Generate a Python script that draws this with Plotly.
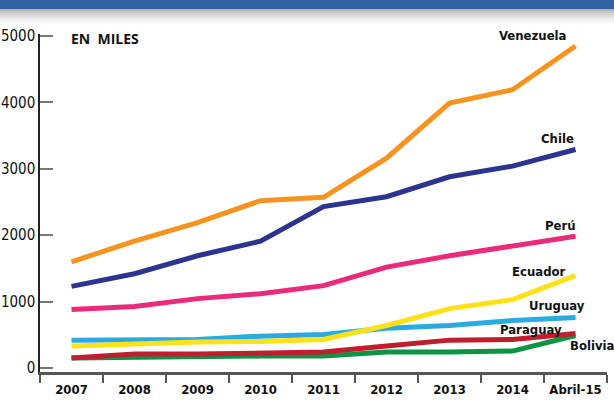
import plotly.graph_objects as go

years = ["2007", "2008", "2009", "2010", "2011", "2012", "2013", "2014", "Abril-15"]
venezuela = [1600, 1910, 2190, 2520, 2570, 3160, 3990, 4190, 4850]
chile = [1230, 1420, 1690, 1910, 2430, 2580, 2880, 3040, 3290]
peru = [880, 925, 1045, 1120, 1240, 1520, 1690, 1840, 1985]
ecuador = [330, 360, 390, 400, 430, 640, 895, 1030, 1390]
uruguay = [420, 425, 430, 480, 505, 600, 640, 715, 760]
paraguay = [150, 210, 210, 225, 240, 330, 420, 430, 520]
bolivia = [150, 165, 180, 180, 180, 240, 240, 255, 490]
yticks = [0, 1000, 2000, 3000, 4000, 5000]

series = [
    ("Bolivia", bolivia, "#0A9444"),
    ("Paraguay", paraguay, "#BE1E2D"),
    ("Uruguay", uruguay, "#29AAE1"),
    ("Ecuador", ecuador, "#FFE11A"),
    ("Perú", peru, "#EC2A7A"),
    ("Chile", chile, "#2B3590"),
    ("Venezuela", venezuela, "#F7931E"),
]

W, H = 614, 402
L, R, T, B = 40, 7, 34, 30
pw = W - L - R
ph = H - T - B

def px(x):
    return (x - L) / pw

def py(y):
    return (H - B - y) / ph

COND = "DejaVu Sans Condensed, Roboto, sans-serif"

fig = go.Figure()
for name, vals, col in series:
    fig.add_trace(go.Scatter(x=years, y=vals, mode="lines", name=name,
                             line=dict(color=col, width=5), showlegend=False,
                             hoverinfo="skip"))

lab_font = dict(family=COND, size=13, color="#111")
labels = [
    ("Venezuela", 533, 35),
    ("Chile", 557, 138),
    ("Perú", 560, 225),
    ("Ecuador", 539, 271),
    ("Uruguay", 557, 305),
    ("Paraguay", 531, 329),
    ("Bolivia", 592, 345),
]
ann = []
for t, x, y in labels:
    ann.append(dict(text="<b>%s</b>" % t, x=px(x), y=py(y), xref="paper", yref="paper",
                    showarrow=False, font=lab_font, xanchor="center", yanchor="middle"))
ann.append(dict(text="<b>EN  MILES</b>", x=px(69), y=py(39), xref="paper", yref="paper",
                showarrow=False, xanchor="left", yanchor="middle",
                font=dict(family="Open Sans, sans-serif", size=14, color="#111")))

shapes = [dict(type="rect", xref="paper", yref="paper", x0=-0.2, x1=1.2,
               y0=py(9), y1=py(-5), fillcolor="#2F62A0", line=dict(width=0), layer="above")]
for i in range(18):
    shapes.append(dict(type="rect", xref="paper", yref="paper", x0=-0.2, x1=1.2,
                       y0=py(10 + i), y1=py(9 + i), fillcolor="rgba(80,80,80,%.3f)" % (0.45 * (1 - i / 18) ** 2),
                       line=dict(width=0), layer="above"))

fig.update_layout(
    width=W, height=H,
    margin=dict(l=L, r=R, t=T, b=B),
    paper_bgcolor="white", plot_bgcolor="white",
    annotations=ann, shapes=shapes,
    xaxis=dict(type="category", range=[-0.5, 8.5], tickson="boundaries",
               showgrid=False, zeroline=False, automargin=False, tickangle=0,
               showline=True, linecolor="#555", linewidth=3,
               ticks="outside", ticklen=8, tickwidth=2, tickcolor="#555",
               ticklabelstandoff=3,
               tickfont=dict(family=COND, size=13, color="#111"),
               tickprefix="<b>", ticksuffix="</b>"),
    yaxis=dict(range=[-60, 5030], tickvals=yticks, showgrid=False, zeroline=False,
               automargin=False,
               showline=True, linecolor="#222", linewidth=1.5,
               ticks="inside", ticklen=13, tickwidth=2, tickcolor="#777",
               tickfont=dict(family=COND, size=15, color="#111")),
)

fig.write_html("out.html", config={"displayModeBar": False},
               post_script="document.body.style.margin='0';document.body.style.overflow='hidden';")
